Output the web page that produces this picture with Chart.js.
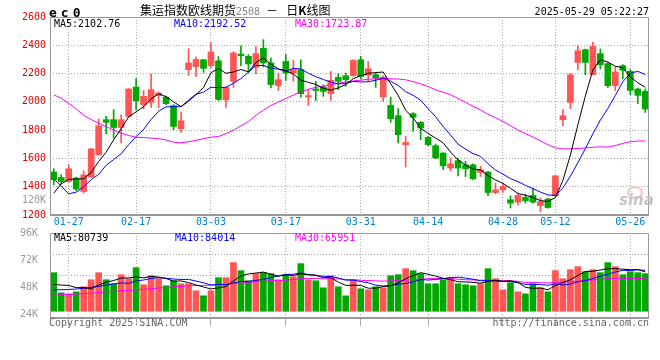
<!DOCTYPE html>
<html>
<head>
<meta charset="utf-8">
<script src="https://cdn.jsdelivr.net/npm/chart.js@4.4.1/dist/chart.umd.min.js"></script>
<style>
  html, body { margin: 0; padding: 0; background: #fff; overflow: hidden; }
  #wrap { position: relative; width: 660px; height: 360px; }
  canvas { position: absolute; left: 0; top: 0; }
  .t { position: absolute; white-space: nowrap; font: 10px 'DejaVu Sans Mono', monospace; line-height: 12px; }
</style>
</head>
<body>
<div id="wrap">
  <canvas id="kline" width="660" height="360"></canvas>
  <canvas id="vol" width="660" height="360"></canvas>

  <div class="t" style="left:49px;top:5px;font:bold 13px 'DejaVu Sans Mono',monospace;line-height:15px;letter-spacing:4px;">ec0</div>
  <div class="t" style="left:140px;top:3px;font:12px 'Noto Sans CJK SC',sans-serif;line-height:14px;">集运指数欧线期货<span style="font:10px 'DejaVu Sans Mono',monospace;color:#888;">2508</span><span style="margin:0 8px 0 6px;">－</span>日<b>K</b>线图</div>
  <div class="t" style="right:11px;top:6px;">2025-05-29 05:22:27</div>

  <div class="t" style="left:54px;top:18px;color:#000;">MA5:2102.76</div>
  <div class="t" style="left:174px;top:18px;color:#0000ff;">MA10:2192.52</div>
  <div class="t" style="left:295px;top:18px;color:#ff00ff;">MA30:1723.87</div>
  <div class="t" style="right:614px;top:194px;color:#999;">120K</div>

  <div class="t" style="left:54px;top:232px;color:#000;">MA5:80739</div>
  <div class="t" style="left:175px;top:232px;color:#0000ff;">MA10:84014</div>
  <div class="t" style="left:295px;top:232px;color:#ff00ff;">MA30:65951</div>

  <div class="t" style="left:49px;top:317px;color:#666;">Copyright 2025 SINA.COM</div>
  <div class="t" style="right:11px;top:317px;color:#666;">http://finance.sina.com.cn</div>

  <div style="position:absolute;left:627px;top:186px;width:12px;height:9px;border:2px solid #f4c4c4;border-radius:50%;"></div>
  <div class="t" style="left:619px;top:193px;font:italic bold 15px 'DejaVu Sans',sans-serif;line-height:15px;color:#c4c4c4;">sina</div>
</div>

<script>
// trading days shown on the chart
const dates = [
  '01-23','01-24','01-27','02-05','02-06','02-07','02-10','02-11','02-12','02-13',
  '02-14','02-17','02-18','02-19','02-20','02-21','02-24','02-25','02-26','02-27',
  '02-28','03-03','03-04','03-05','03-06','03-07','03-10','03-11','03-12','03-13',
  '03-14','03-17','03-18','03-19','03-20','03-21','03-24','03-25','03-26','03-27',
  '03-28','03-31','04-01','04-02','04-03','04-07','04-08','04-09','04-10','04-11',
  '04-14','04-15','04-16','04-17','04-18','04-21','04-22','04-23','04-24','04-25',
  '04-28','04-29','04-30','05-06','05-07','05-08','05-09','05-12','05-13','05-14',
  '05-15','05-16','05-19','05-20','05-21','05-22','05-23','05-26','05-27','05-28'
];
const tickDates = ['01-27','02-17','03-03','03-17','03-31','04-14','04-28','05-12','05-26'];

// daily OHLC
const opens = [
  1504,1465,1437,1461,1366,1468,1626,1874,1874,1819,
  1897,2105,1980,1996,2044,2034,1973,1810,2228,2248,
  2298,2256,2290,2015,2145,2338,2322,2244,2378,2275,
  2115,2286,2204,2228,2034,2091,2105,2058,2173,2185,
  2185,2298,2188,2192,2034,1975,1902,1697,1916,1855,
  1749,1690,1638,1532,1584,1555,1555,1501,1504,1359,
  1378,1308,1291,1324,1338,1267,1313,1336,1874,1996,
  2279,2369,2192,2341,2270,2114,2256,2216,2091,2074
];
const highs = [
  1527,1484,1555,1468,1513,1670,1879,1897,1945,1909,
  2095,2164,2081,2199,2070,2040,1980,1928,2376,2318,
  2300,2420,2320,2105,2355,2397,2334,2390,2440,2310,
  2204,2334,2293,2298,2086,2145,2121,2215,2199,2204,
  2298,2322,2286,2204,2185,2034,1952,1756,1925,1862,
  1756,1702,1642,1603,1603,1579,1562,1543,1508,1426,
  1426,1336,1350,1348,1390,1320,1320,1480,1945,2200,
  2397,2374,2421,2374,2279,2247,2263,2228,2098,2091
];
const lows = [
  1414,1421,1430,1373,1355,1466,1622,1775,1744,1709,
  1890,1945,1949,1961,1957,1980,1803,1784,2187,2180,
  2208,2242,2010,1961,2102,2256,2207,2199,2247,2098,
  2081,2152,2145,2034,1975,2010,2039,2010,2086,2110,
  2180,2161,2145,2102,2003,1855,1709,1539,1791,1732,
  1690,1598,1520,1513,1477,1472,1449,1472,1336,1350,
  1359,1249,1272,1284,1284,1225,1249,1333,1831,1952,
  2228,2192,2192,2232,2102,2081,2164,2051,1987,1925
];
const closes = [
  1449,1437,1527,1383,1484,1668,1831,1855,1819,1874,
  2091,2008,2039,2086,2063,1987,1826,1867,2275,2300,
  2237,2353,2017,2102,2346,2326,2268,2341,2275,2122,
  2157,2204,2228,2058,2044,2081,2074,2152,2145,2157,
  2293,2180,2235,2169,2176,1881,1768,1713,1890,1815,
  1697,1603,1548,1562,1532,1527,1456,1520,1359,1378,
  1402,1284,1338,1300,1291,1296,1253,1477,1902,2192,
  2362,2279,2392,2263,2114,2211,2223,2081,2046,1949
];

// price moving averages as drawn
const ma5 = [
  1355,1420,1452,1455,1456,1500,1579,1644,1731,1809,
  1894,1929,1966,2020,2057,2037,2000,1966,2004,2051,
  2101,2206,2236,2202,2211,2229,2212,2277,2311,2266,
  2233,2220,2197,2154,2138,2123,2097,2082,2099,2122,
  2164,2185,2202,2207,2211,2128,2046,1941,1886,1813,
  1777,1744,1711,1645,1588,1554,1525,1519,1479,1448,
  1423,1389,1352,1340,1323,1302,1296,1323,1444,1624,
  1837,2042,2225,2298,2282,2252,2241,2178,2135,2103
];
const ma10 = [
  1456,1405,1350,1362,1400,1450,1487,1552,1592,1633,
  1697,1754,1805,1876,1933,1965,1965,1966,2012,2054,
  2069,2103,2101,2103,2131,2165,2209,2257,2257,2239,
  2231,2216,2237,2233,2202,2178,2158,2140,2127,2130,
  2144,2141,2142,2153,2166,2146,2116,2072,2046,2012,
  1952,1895,1826,1765,1701,1666,1634,1615,1562,1518,
  1489,1457,1436,1410,1386,1362,1342,1338,1392,1474,
  1570,1669,1774,1871,1953,2045,2142,2202,2216,2193
];
const ma30 = [
  2050,2025,1990,1950,1905,1875,1850,1825,1800,1780,
  1762,1750,1747,1744,1740,1730,1715,1710,1718,1727,
  1740,1750,1755,1775,1800,1830,1860,1905,1940,1975,
  1999,2024,2048,2070,2089,2103,2111,2121,2132,2141,
  2148,2153,2160,2163,2167,2163,2161,2156,2143,2127,
  2109,2084,2068,2050,2023,1997,1969,1942,1912,1887,
  1862,1831,1801,1776,1751,1725,1697,1675,1667,1668,
  1670,1674,1679,1682,1680,1691,1706,1718,1723,1724
];

// volume and its moving averages
const volumes = [
  60950,42950,42050,43850,48350,54650,60950,54650,51050,59150,
  55550,65450,50150,58250,55550,49250,53750,51050,51050,44750,
  40250,44750,56450,56450,69950,62750,53750,60050,60950,60050,
  54650,59150,57350,69050,54650,53750,47450,58250,48350,40250,
  54650,46550,45650,48350,47450,58250,59150,64550,62750,60050,
  51050,51050,54650,56450,51050,50150,49250,51050,64550,55550,
  45650,51950,43850,42050,51050,47450,43850,62750,55550,63650,
  66350,61850,63650,60950,69950,66350,59150,61850,60950,60050
];
const volMa5 = [
  50510,49880,49520,47540,47630,46370,49970,52490,53930,56090,
  56270,57170,56270,57710,56990,55730,53390,53570,52130,49970,
  48170,46370,47450,48530,53570,58070,59870,60590,61490,59510,
  57890,58970,58430,60050,58970,58790,56450,56630,52490,49610,
  49790,49610,47090,47090,48530,49250,51770,55550,58430,60950,
  59510,57890,55910,54650,52850,52670,52310,51590,53210,54110,
  53210,53750,52310,47810,46910,47270,45650,49430,52130,54650,
  58430,62030,62210,63290,64550,64550,64010,63650,63650,61670
];
const volMa10 = [
  45470,45740,46010,46280,47090,47900,48800,49790,50780,51860,
  51320,53570,54380,55820,56540,56000,55280,54920,54920,53480,
  51950,49880,50510,50330,51770,53120,53120,54020,55010,56540,
  57980,59420,59510,60770,59240,58340,57710,57530,56270,54290,
  54290,53030,51860,49790,49070,49520,50690,51320,52760,54740,
  54380,54830,55730,56540,56900,56090,55100,53750,53930,53480,
  52940,53030,51950,50510,50510,50240,49700,50870,49970,50780,
  52850,53840,55820,57710,59600,61490,63020,62930,63470,63110
];
const volMa30 = [
  40970,41240,41510,41870,42140,42590,43220,43850,44390,44750,
  45110,45560,46100,46640,47180,47810,48260,48800,49250,49430,
  49610,49790,50060,50240,51230,51770,52310,52850,53300,53960,
  53750,54290,54800,55640,55850,55820,55370,55490,55400,54770,
  54740,54110,53960,53630,53360,53660,53840,54290,54680,55190,
  55550,55760,55700,55700,55070,54650,54500,54200,54320,54170,
  53870,53630,53180,52280,52160,51950,51830,51980,52220,53000,
  53390,53900,54500,54920,55670,55940,55940,55850,55790,55790
];
const volTicks = [24000, 48000, 72000, 96000];
const priceTicks = [1200, 1400, 1600, 1800, 2000, 2200, 2400, 2600];

const MONO = "'DejaVu Sans Mono', monospace";
const RED = '#ff5555';
const GREEN = '#00a800';
const GRID = '#aaaaaa';

const candleColors = closes.map((c, i) => c >= opens[i] ? RED : GREEN);
const isTickDate = i => tickDates.includes(dates[i]);

// grey box round each plot area
const framePlugin = {
    id: 'frame',
    afterDraw(chart) {
        const { ctx, chartArea: a } = chart;
        const l = Math.round(a.left) + 0.5, t = Math.round(a.top) + 0.5;
        const r = Math.round(a.right) - 0.5, b = Math.round(a.bottom);
        ctx.save();
        ctx.strokeStyle = '#999';
        ctx.lineWidth = 1;
        ctx.beginPath();
        ctx.moveTo(l, b); ctx.lineTo(l, t); ctx.lineTo(r, t); ctx.lineTo(r, b);
        ctx.stroke();
        ctx.lineWidth = 2;
        ctx.beginPath();
        ctx.moveTo(l - 0.5, b); ctx.lineTo(r + 0.5, b);
        ctx.stroke();
        ctx.restore();
    }
};

function maLine(data, color) {
    return { type: 'line', data: data, borderColor: color, borderWidth: 1,
             pointRadius: 0, tension: 0, fill: false, order: 0 };
}

const xGrid = ctx => isTickDate(ctx.index) ? GRID : 'rgba(0,0,0,0)';

// --- price panel ---
new Chart(document.getElementById('kline'), {
    type: 'bar',
    data: {
        labels: dates,
        datasets: [
            maLine(ma5, '#000000'),
            maLine(ma10, '#0000ff'),
            maLine(ma30, '#ff00ff'),
            { data: dates.map((d, i) => [lows[i], highs[i]]), backgroundColor: candleColors,
              barThickness: 1, grouped: false, order: 2 },
            { data: dates.map((d, i) => [opens[i], closes[i]]), backgroundColor: candleColors,
              barThickness: 6, minBarLength: 1, grouped: false, order: 1 }
        ]
    },
    options: {
        responsive: false, animation: false, events: [],
        layout: { padding: { left: 0, top: 17, right: 11, bottom: 129 } },
        scales: {
            x: {
                offset: true,
                grid: { offset: false, color: xGrid, drawTicks: false },
                border: { display: false, dash: [1, 2] },
                ticks: {
                    autoSkip: false, maxRotation: 0, padding: 1, color: '#0080d0',
                    font: { family: MONO, size: 10 },
                    callback: (v, i) => isTickDate(i) ? dates[i] : ''
                },
                afterFit(s) { s.height = 16; }
            },
            y: {
                min: 1200, max: 2600,
                afterBuildTicks(s) { s.ticks = priceTicks.map(v => ({ value: v })); },
                grid: { color: GRID, drawTicks: false },
                border: { display: false, dash: [1, 2] },
                ticks: { color: '#e00000', padding: 4, font: { family: MONO, size: 10 },
                         callback: v => String(v) },
                afterFit(s) { s.width = 50; }
            }
        },
        plugins: { legend: { display: false }, tooltip: { enabled: false } }
    },
    plugins: [framePlugin]
});

// --- volume panel ---
new Chart(document.getElementById('vol'), {
    type: 'bar',
    data: {
        labels: dates,
        datasets: [
            maLine(volMa5, '#000000'),
            maLine(volMa10, '#0000ff'),
            maLine(volMa30, '#ff00ff'),
            { data: volumes, backgroundColor: candleColors, barThickness: 6,
              base: 26480, order: 1 }
        ]
    },
    options: {
        responsive: false, animation: false, events: [],
        layout: { padding: { left: 0, top: 233, right: 11, bottom: 32 } },
        scales: {
            x: {
                offset: true,
                grid: { offset: false, color: xGrid, drawTicks: true, tickLength: 8 },
                border: { display: false, dash: [1, 2] },
                ticks: { display: false },
                afterFit(s) { s.height = 10; }
            },
            y: {
                min: 20450, max: 96400,
                afterBuildTicks(s) { s.ticks = volTicks.map(v => ({ value: v })); },
                grid: { display: false },
                border: { display: false },
                ticks: { color: '#999', padding: 4, font: { family: MONO, size: 10 },
                         callback: v => (v / 1000) + 'K' },
                afterFit(s) { s.width = 50; }
            },
            yg: {
                position: 'right', min: 0, max: 4,
                grid: { color: c => (c.index === 0 || c.index === 4) ? 'rgba(0,0,0,0)' : GRID, drawTicks: false },
                border: { display: false, dash: [1, 2] },
                ticks: { display: false, stepSize: 1 },
                afterFit(s) { s.width = 0; }
            }
        },
        plugins: { legend: { display: false }, tooltip: { enabled: false } }
    },
    plugins: [framePlugin]
});
</script>
</body>
</html>
